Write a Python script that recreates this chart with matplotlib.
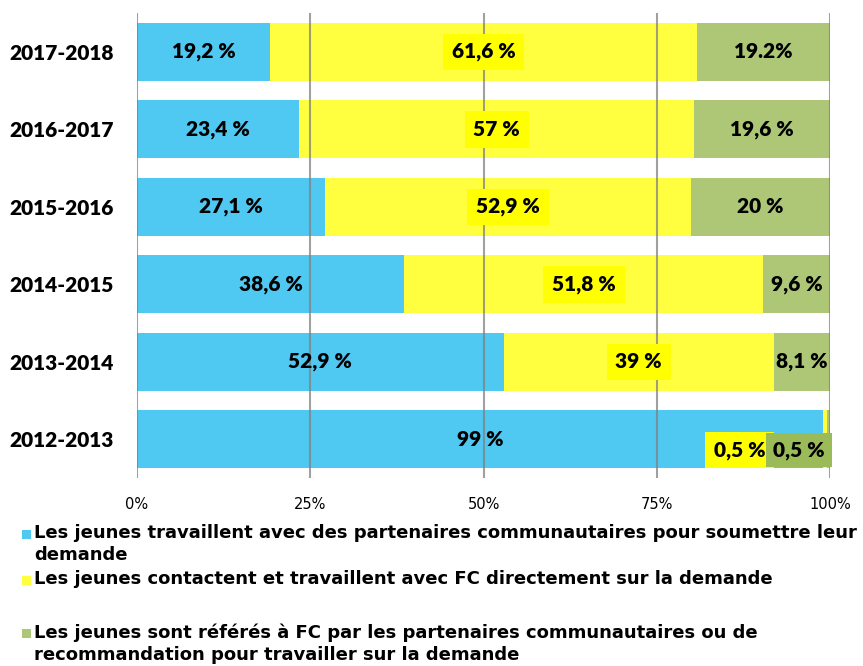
import matplotlib
matplotlib.use("Agg")
import matplotlib.pyplot as plt
from matplotlib.patches import Rectangle
import numpy as np

years = ["2017-2018", "2016-2017", "2015-2016", "2014-2015", "2013-2014", "2012-2013"]
partenaires = [19.2, 23.4, 27.1, 38.6, 52.9, 99.0]
directement = [61.6, 57.0, 52.9, 51.8, 39.0, 0.5]
referes = [19.2, 19.6, 20.0, 9.6, 8.1, 0.5]
lab_part = ["19,2 %", "23,4 %", "27,1 %", "38,6 %", "52,9 %", "99 %"]
lab_dir = ["61,6 %", "57 %", "52,9 %", "51,8 %", "39 %", "0,5 %"]
lab_ref = ["19.2%", "19,6 %", "20 %", "9,6 %", "8,1 %", "0,5 %"]
xticks = [0, 25, 50, 75, 100]
xticklabels = ["0%", "25%", "50%", "75%", "100%"]
legend_labels = [
    "Les jeunes travaillent avec des partenaires communautaires pour soumettre leur\ndemande",
    "Les jeunes contactent et travaillent avec FC directement sur la demande",
    "Les jeunes sont référés à FC par les partenaires communautaires ou de\nrecommandation pour travailler sur la demande",
]

c_blue = "#4FC8F2"
c_yellow = "#FFFF40"
c_green = "#ADC776"
narrow = ["DejaVu Sans"]
boldf = ["Lato", "DejaVu Sans"]

fig = plt.figure(figsize=(8.63, 6.66), dpi=100)
ax = fig.add_axes([137/863, 1-478/666, (830-137)/863, (478-13)/666])

y = np.arange(len(years))
h = 0.75
p = np.array(partenaires)
d = np.array(directement)
r = np.array(referes)
ax.barh(y, p, height=h, color=c_blue, zorder=1)
ax.barh(y, d, left=p, height=h, color=c_yellow, zorder=1)
ax.barh(y, r, left=p+d, height=h, color=c_green, zorder=1)

ax.set_xlim(0, 100)
ax.set_ylim(len(years)-0.5, -0.5)
ax.set_yticks(y)
ax.set_yticklabels(years, fontfamily=boldf, fontweight="heavy", fontsize=15)
ax.set_xticks(xticks)
ax.set_xticklabels(xticklabels, fontfamily=narrow, fontsize=10.5)
ax.tick_params(axis="y", length=0, pad=17)
ax.tick_params(axis="x", length=0, pad=14)
for s in ax.spines.values():
    s.set_visible(False)
for xv in xticks:
    ax.axvline(xv, color="#808080", lw=1.5, alpha=0.75, zorder=3)

fs = 15
fw = "heavy"
for i in range(len(years)):
    ax.text(p[i]/2, y[i], lab_part[i], ha="center", va="center", fontsize=fs,
            fontweight=fw, fontfamily=boldf, zorder=4)
    if i < 5:
        ax.text(p[i] + d[i]/2, y[i], lab_dir[i], ha="center", va="center", fontsize=fs,
                fontweight=fw, fontfamily=boldf, zorder=4,
                bbox=dict(boxstyle="square,pad=0.42", fc="#FFFF00", ec="none"))
        ax.text(p[i] + d[i] + r[i]/2, y[i], lab_ref[i], ha="center", va="center", fontsize=fs,
                fontweight=fw, fontfamily=boldf, zorder=4)
    else:
        ax.text(87.0, y[i] + 0.14, lab_dir[i], ha="center", va="center", fontsize=fs,
                fontweight=fw, fontfamily=boldf, zorder=4,
                bbox=dict(boxstyle="square,pad=0.42", fc="#FFFF00", ec="none"))
        ax.text(95.5, y[i] + 0.14, lab_ref[i], ha="center", va="center", fontsize=fs,
                fontweight=fw, fontfamily=boldf, zorder=5,
                bbox=dict(boxstyle="square,pad=0.35", fc="#9BBB59", ec="none"))

# legend
colors = [c_blue, c_yellow, c_green]
ys = [533, 579, 632]
for col, lab, yy in zip(colors, legend_labels, ys):
    fig.patches.append(Rectangle((22/863, 1-(yy+6)/666), 9/863, 9/666, transform=fig.transFigure,
                                 fc=col, ec="none"))
    fig.text(34/863, 1-(yy-9)/666, lab, ha="left", va="top", fontsize=13.0,
             fontfamily=narrow, fontweight="bold", linespacing=1.3)

fig.savefig("out.png", dpi=100)
